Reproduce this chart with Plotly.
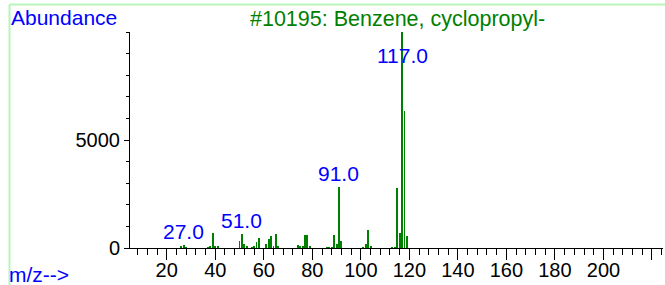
import plotly.graph_objects as go

# ---- data ----
mz = [26, 27, 28, 37, 38, 39, 40, 41, 50, 51, 52, 53, 55, 56, 57, 58,
      61, 62, 63, 64, 65, 66, 74, 75, 76, 77, 78, 79, 86, 87, 88, 89,
      90, 91, 92, 101, 102, 103, 104, 113, 114, 115, 116, 117, 118, 119]
abundance = [50, 130, 40, 40, 90, 700, 60, 90, 324, 650, 185, 60, 40, 90, 300, 463,
             185, 432, 555, 100, 640, 90, 120, 100, 100, 616, 590, 50, 30, 40, 30, 590,
             185, 2838, 324, 40, 185, 818, 90, 30, 40, 2792, 690, 9999, 6356, 555]
labeled_mz = [27, 51, 91, 117]
x_major_ticks = [20, 40, 60, 80, 100, 120, 140, 160, 180, 200, 220]
x_major_text = ["20", "40", "60", "80", "100", "120", "140", "160", "180", "200", ""]
y_major_ticks = [0, 5000]
y_major_text = ["0", "5000"]
title_text = "#10195: Benzene, cyclopropyl-"

FONT = "Liberation Sans, Arial, sans-serif"
GREEN = "#008000"
BLUE = "#0000ff"
FRAME = "#b8f5b8"

W, H = 665, 285
L, R, T, B = 130, 2, 32, 37
pw, ph = W - L - R, H - T - B


def px_x(p):
    return (p - L) / pw


def px_y(p):
    return (H - B - p) / ph


fig = go.Figure()
fig.add_trace(go.Bar(x=mz, y=abundance, width=0.4,
                     marker=dict(color=GREEN, line=dict(width=0)),
                     hoverinfo="x+y", showlegend=False))

ab = dict(zip(mz, abundance))
for m in labeled_mz:
    v = ab[m]
    if v > 9000:
        fig.add_annotation(x=m, y=v, text=f"{m:.1f}", showarrow=False,
                           yanchor="top", yshift=-10, xanchor="center",
                           font=dict(family=FONT, size=21, color=BLUE))
    else:
        fig.add_annotation(x=m, y=v, text=f"{m:.1f}", showarrow=False,
                           yanchor="bottom", yshift=0, xanchor="center",
                           font=dict(family=FONT, size=21, color=BLUE))

# text labels
fig.add_annotation(xref="paper", yref="paper", x=px_x(9), y=px_y(18),
                   text="Abundance", showarrow=False, xanchor="left", yanchor="middle",
                   font=dict(family=FONT, size=21, color=BLUE))
fig.add_annotation(xref="paper", yref="paper", x=px_x(397), y=px_y(19),
                   text=title_text, showarrow=False, xanchor="center", yanchor="middle",
                   font=dict(family=FONT, size=21.5, color=GREEN))
fig.add_annotation(xref="paper", yref="paper", x=px_x(7), y=px_y(274),
                   text="m/z-->", showarrow=False, xanchor="left", yanchor="middle",
                   font=dict(family=FONT, size=21, color=BLUE))

# light green frame lines
fig.add_shape(type="line", xref="paper", yref="paper",
              x0=px_x(9.5), x1=px_x(W + 5), y0=px_y(4.5), y1=px_y(4.5),
              line=dict(color=FRAME, width=2))
fig.add_shape(type="line", xref="paper", yref="paper",
              x0=px_x(9.5), x1=px_x(9.5), y0=px_y(4.5), y1=px_y(H + 5),
              line=dict(color=FRAME, width=2))

fig.update_layout(
    width=W, height=H,
    margin=dict(l=L, r=R, t=T, b=B),
    paper_bgcolor="white", plot_bgcolor="white",
    showlegend=False, bargap=0,
    font=dict(family=FONT, size=20, color="black"),
    xaxis=dict(range=[4.86, 224.55], showgrid=False, zeroline=False, automargin=False,
               showline=True, linecolor="black", linewidth=1,
               tickmode="array", tickvals=x_major_ticks, ticktext=x_major_text,
               ticks="outside", ticklen=11, tickwidth=1, tickcolor="black",
               ticklabelstandoff=-7,
               tickfont=dict(family=FONT, size=20, color="black"),
               minor=dict(tickmode="linear", tick0=0, dtick=4, ticks="outside",
                          ticklen=6, tickwidth=1, tickcolor="black", showgrid=False)),
    yaxis=dict(range=[0, 10000], showgrid=False, zeroline=False, automargin=False,
               showline=True, linecolor="black", linewidth=1,
               tickmode="array", tickvals=y_major_ticks, ticktext=y_major_text,
               ticks="outside", ticklen=5, tickwidth=1, tickcolor="black",
               tickfont=dict(family=FONT, size=20, color="black"),
               minor=dict(tickmode="linear", tick0=0, dtick=1000, ticks="outside",
                          ticklen=3, tickwidth=1, tickcolor="black", showgrid=False)),
)

fig.write_html("out.html", config={"displayModeBar": False},
               post_script="document.body.style.margin='0';document.body.style.padding='0';")
